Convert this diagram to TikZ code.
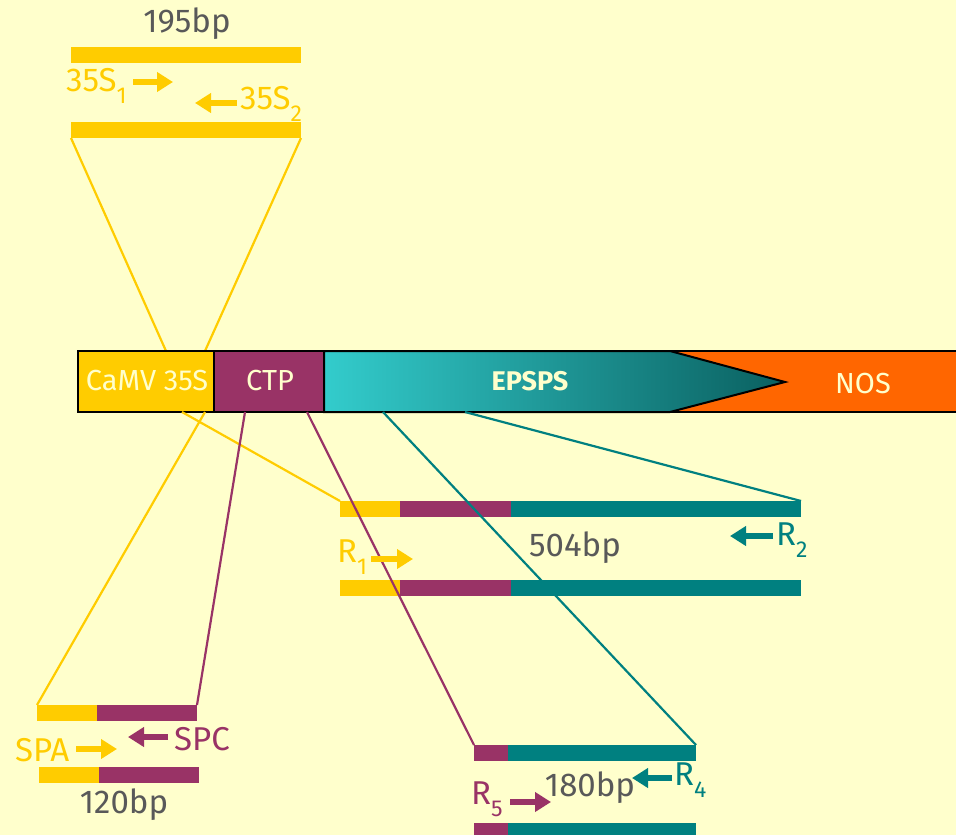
\documentclass[tikz,border=0pt]{standalone}
\usepackage{fontspec}
\setmainfont{Fira Sans}
\usetikzlibrary{arrows.meta}

\definecolor{bgyel}{HTML}{FFFFCC}
\definecolor{camv}{HTML}{FFCC00}
\definecolor{ctp}{HTML}{993366}
\definecolor{epsps}{HTML}{008080}
\definecolor{epspsl}{HTML}{33CCCC}
\definecolor{epspsd}{HTML}{0A6060}
\definecolor{nos}{HTML}{FF6600}
\definecolor{bptext}{HTML}{595959}

\newcommand\subnum[1]{\raisebox{-0.35em}{\fontsize{23}{23}\selectfont #1}}

\begin{document}
\begin{tikzpicture}[x=1pt,y=-1pt]
			\tikzstyle{bar} = [anchor=north west, inner sep=0pt, outer sep=0pt, minimum height=16]
			\tikzstyle{primer} = [line width=6.5pt, -{Triangle[length=16pt,width=19pt]}]
			\tikzstyle{link} = [line width=2.2pt]
			\tikzstyle{lbl} = [font=\fontsize{33}{36}\selectfont, inner sep=0pt]
			\tikzstyle{boxtext} = [font=\fontsize{29}{32}\selectfont, text=bgyel, inner sep=0pt]
			
			\fill [bgyel] (0,0) rectangle (956,835);
			\useasboundingbox (0,0) rectangle (956,835);
			
			% 195bp fragment
			\node [lbl, text=bptext] (bp195) at (187,24) {195bp};
			\node [bar, fill=camv, minimum width=230] (top1) at (71,47) {};
			\node [bar, fill=camv, minimum width=230] (top2) at (71,122) {};
			\node [lbl, text=camv, anchor=west] (s1) at (66,86) {35S\subnum{1}};
			\node [lbl, text=camv, anchor=west] (s2) at (240,104) {35S\subnum{2}};
			\coordinate (s1a) at (133,82);
			\coordinate (s1b) at (173,82);
			\coordinate (s2a) at (237,103);
			\coordinate (s2b) at (195,103);
			\draw [primer, camv] (s1a) -- (s1b);
			\draw [primer, camv] (s2a) -- (s2b);
			
			% construct
			\coordinate (upA) at (166,351);
			\coordinate (upB) at (205,351);
			\draw [link, camv] (top2.south west) -- (upA);
			\draw [link, camv] (top2.south east) -- (upB);
			
			\draw [line width=2pt, fill=nos] (670,351) rectangle (962,412);
			\draw [line width=2pt, left color=epspsl, right color=epspsd]
				(324,351) -- (670,351) -- (785,382) -- (670,412) -- (324,412) -- cycle;
			\draw [line width=2pt, fill=camv] (78,351) rectangle (214,412);
			\draw [line width=2pt, fill=ctp] (214,351) rectangle (324,412);
			\node [boxtext] (camvlbl) at (147,381) {CaMV 35S};
			\node [boxtext] (ctplbl) at (270,381) {CTP};
			\node [boxtext, font=\fontsize{27}{30}\selectfont\bfseries] (epspslbl) at (530,381) {EPSPS};
			\node [boxtext] (noslbl) at (863,384) {NOS};
			
			% 504bp fragment
			\node [bar, fill=camv, minimum width=60] (y504a) at (340,501) {};
			\node [bar, fill=ctp, minimum width=111] (p504a) at (400,501) {};
			\node [bar, fill=epsps, minimum width=290] (t504a) at (511,501) {};
			\node [bar, fill=camv, minimum width=60] (y504b) at (340,580) {};
			\node [bar, fill=ctp, minimum width=111] (p504b) at (400,580) {};
			\node [bar, fill=epsps, minimum width=290] (t504b) at (511,580) {};
			\node [lbl, text=bptext] (bp504) at (575,548) {504bp};
			\node [lbl, text=camv, anchor=west] (r1) at (337,557) {R\subnum{1}};
			\node [lbl, text=epsps, anchor=west] (r2) at (776,540) {R\subnum{2}};
			\coordinate (r1a) at (371,559);
			\coordinate (r1b) at (413,559);
			\coordinate (r2a) at (773,536);
			\coordinate (r2b) at (730,536);
			
			% 120bp fragment
			\node [bar, fill=camv, minimum width=60] (y120a) at (37,705) {};
			\node [bar, fill=ctp, minimum width=100] (p120a) at (97,705) {};
			\node [bar, fill=camv, minimum width=60] (y120b) at (39,767) {};
			\node [bar, fill=ctp, minimum width=100] (p120b) at (99,767) {};
			\node [lbl, text=bptext] (bp120) at (124,805) {120bp};
			\node [lbl, text=camv, anchor=west] (spa) at (15,750) {SPA};
			\node [lbl, text=ctp, anchor=west] (spc) at (174,739) {SPC};
			\coordinate (spaa) at (76,749);
			\coordinate (spab) at (117,749);
			\coordinate (spca) at (168,737);
			\coordinate (spcb) at (128,737);
			
			% 180bp fragment
			\node [bar, fill=ctp, minimum width=34] (p180a) at (474,745) {};
			\node [bar, fill=epsps, minimum width=188] (t180a) at (508,745) {};
			\node [bar, fill=ctp, minimum width=34] (p180b) at (474,823) {};
			\node [bar, fill=epsps, minimum width=188] (t180b) at (508,823) {};
			\node [lbl, text=bptext] (bp180) at (590,788) {180bp};
			\node [lbl, text=epsps, anchor=west] (r4) at (674,780) {R\subnum{4}};
			\node [lbl, text=ctp, anchor=west] (r5) at (471,799) {R\subnum{5}};
			\coordinate (r4a) at (672,778);
			\coordinate (r4b) at (632,778);
			\coordinate (r5a) at (510,802);
			\coordinate (r5b) at (551,802);
			
			% links from the construct
			\coordinate (dnA) at (182,412);
			\coordinate (dnB) at (205,412);
			\coordinate (dnC) at (245,412);
			\coordinate (dnD) at (307,412);
			\coordinate (dnE) at (383,412);
			\coordinate (dnF) at (465,412);
			\draw [link, camv] (dnA) -- (y504a.north west);
			\draw [link, camv] (dnB) -- (y120a.north west);
			\draw [link, ctp] (dnC) -- (p120a.north east);
			\draw [link, ctp] (dnD) -- (p180a.north west);
			\draw [link, epsps] (dnE) -- (t180a.north east);
			\draw [link, epsps] (dnF) -- (t504a.north east);
			
			\draw [primer, camv] (r1a) -- (r1b);
			\draw [primer, epsps] (r2a) -- (r2b);
			\draw [primer, camv] (spaa) -- (spab);
			\draw [primer, ctp] (spca) -- (spcb);
			\draw [primer, epsps] (r4a) -- (r4b);
			\draw [primer, ctp] (r5a) -- (r5b);
			
\end{tikzpicture}
\end{document}
